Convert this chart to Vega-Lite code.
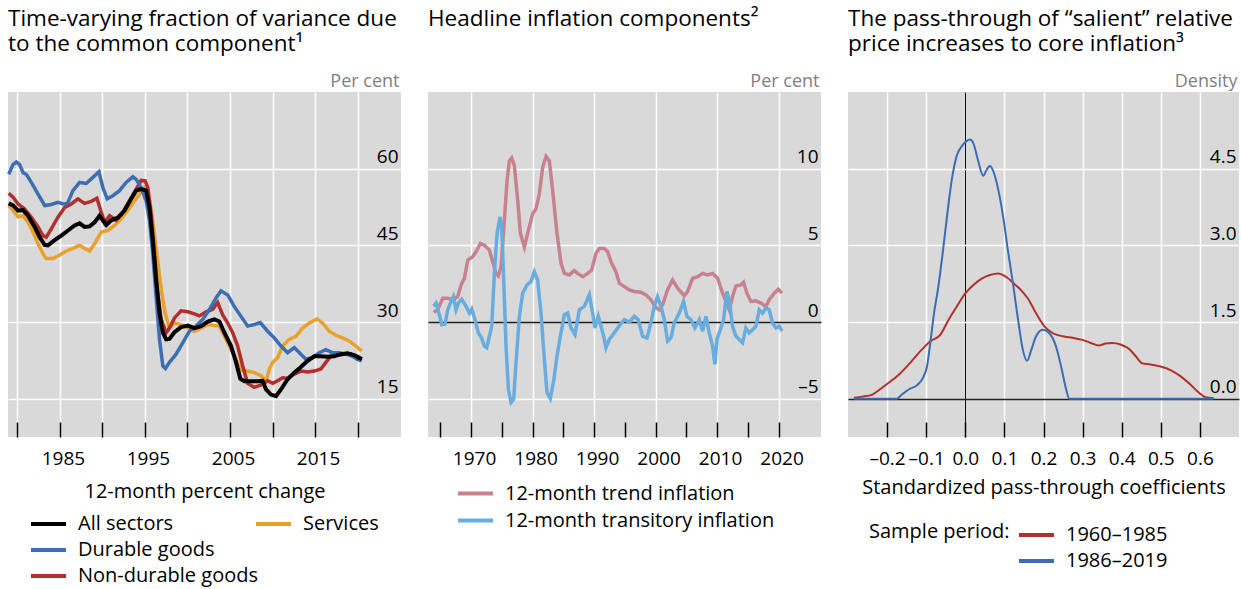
{
  "$schema": "https://vega.github.io/schema/vega-lite/v6.json",
  "background": "white",
  "padding": {"left": 0, "top": 7, "right": 3, "bottom": 0},
  "bounds": "flush",
  "spacing": 27,
  "resolve": {"scale": {"color": "independent", "stroke": "independent"}, "legend": {"color": "independent", "stroke": "independent"}},
  "config": {
    "font": "Open Sans",
    "view": {"fill": "#d9d9d9", "stroke": null},
    "axis": {"labelFontSize": 19, "labelColor": "black", "titleFontSize": 20, "titleFontWeight": "normal", "titleColor": "black", "domain": false, "gridColor": "white", "gridWidth": 1.5, "gridOpacity": 1},
    "legend": {"labelFontSize": 20, "labelColor": "black", "labelLimit": 400, "titleFontSize": 20, "titleFontWeight": "normal", "titleColor": "black", "titleLimit": 400, "symbolType": "stroke", "symbolSize": 1225, "symbolStrokeWidth": 4, "clipHeight": 26, "rowPadding": 0, "labelOffset": 10},
    "title": {"fontSize": 22.5, "fontWeight": "normal", "anchor": "start", "color": "black", "lineHeight": 25, "baseline": "bottom", "offset": 17, "frame": "group"}
  },
  "datasets": {
    "p1": [
      {"series": "Durable goods", "year": 1978.98, "value": 58.9}, {"series": "Durable goods", "year": 1979.49, "value": 60.8}, {"series": "Durable goods", "year": 1979.88, "value": 61.3}, {"series": "Durable goods", "year": 1980.27, "value": 60.8}, {"series": "Durable goods", "year": 1980.67, "value": 59.2}, {"series": "Durable goods", "year": 1981.06, "value": 58.9}, {"series": "Durable goods", "year": 1981.64, "value": 57.3}, {"series": "Durable goods", "year": 1982.43, "value": 55.0}, {"series": "Durable goods", "year": 1983.21, "value": 52.8}, {"series": "Durable goods", "year": 1983.99, "value": 53.0}, {"series": "Durable goods", "year": 1984.77, "value": 53.4}, {"series": "Durable goods", "year": 1985.56, "value": 53.0}, {"series": "Durable goods", "year": 1985.95, "value": 53.4}, {"series": "Durable goods", "year": 1986.53, "value": 55.7}, {"series": "Durable goods", "year": 1987.32, "value": 57.3}, {"series": "Durable goods", "year": 1988.1, "value": 57.1}, {"series": "Durable goods", "year": 1988.88, "value": 58.3}, {"series": "Durable goods", "year": 1989.59, "value": 59.4}, {"series": "Durable goods", "year": 1990.05, "value": 56.3}, {"series": "Durable goods", "year": 1990.56, "value": 54.1}, {"series": "Durable goods", "year": 1991.23, "value": 54.7}, {"series": "Durable goods", "year": 1992.01, "value": 55.7}, {"series": "Durable goods", "year": 1992.79, "value": 57.3}, {"series": "Durable goods", "year": 1993.58, "value": 58.4}, {"series": "Durable goods", "year": 1993.97, "value": 57.9}, {"series": "Durable goods", "year": 1994.55, "value": 56.3}, {"series": "Durable goods", "year": 1995.14, "value": 53.7}, {"series": "Durable goods", "year": 1995.53, "value": 49.9}, {"series": "Durable goods", "year": 1995.92, "value": 43.4}, {"series": "Durable goods", "year": 1996.31, "value": 35.0}, {"series": "Durable goods", "year": 1996.71, "value": 26.6}, {"series": "Durable goods", "year": 1997.1, "value": 21.4}, {"series": "Durable goods", "year": 1997.41, "value": 20.9}, {"series": "Durable goods", "year": 1997.88, "value": 22.1}, {"series": "Durable goods", "year": 1998.66, "value": 23.7}, {"series": "Durable goods", "year": 1999.44, "value": 25.9}, {"series": "Durable goods", "year": 2000.23, "value": 28.2}, {"series": "Durable goods", "year": 2001.01, "value": 29.2}, {"series": "Durable goods", "year": 2001.79, "value": 30.5}, {"series": "Durable goods", "year": 2002.57, "value": 32.4}, {"series": "Durable goods", "year": 2003.36, "value": 34.7}, {"series": "Durable goods", "year": 2003.94, "value": 36.1}, {"series": "Durable goods", "year": 2004.73, "value": 35.3}, {"series": "Durable goods", "year": 2005.51, "value": 33.0}, {"series": "Durable goods", "year": 2006.29, "value": 31.1}, {"series": "Durable goods", "year": 2007.07, "value": 29.2}, {"series": "Durable goods", "year": 2007.86, "value": 29.5}, {"series": "Durable goods", "year": 2008.56, "value": 29.9}, {"series": "Durable goods", "year": 2009.42, "value": 28.2}, {"series": "Durable goods", "year": 2010.2, "value": 26.9}, {"series": "Durable goods", "year": 2010.99, "value": 25.3}, {"series": "Durable goods", "year": 2011.77, "value": 24.0}, {"series": "Durable goods", "year": 2012.55, "value": 25.0}, {"series": "Durable goods", "year": 2013.33, "value": 23.7}, {"series": "Durable goods", "year": 2013.92, "value": 22.7}, {"series": "Durable goods", "year": 2014.7, "value": 23.0}, {"series": "Durable goods", "year": 2015.48, "value": 24.0}, {"series": "Durable goods", "year": 2016.27, "value": 24.6}, {"series": "Durable goods", "year": 2017.05, "value": 24.0}, {"series": "Durable goods", "year": 2017.83, "value": 24.0}, {"series": "Durable goods", "year": 2018.62, "value": 23.7}, {"series": "Durable goods", "year": 2019.4, "value": 23.3}, {"series": "Durable goods", "year": 2019.98, "value": 22.7}, {"series": "Durable goods", "year": 2020.49, "value": 22.4},
      {"series": "All sectors", "year": 1978.98, "value": 53.2}, {"series": "All sectors", "year": 1979.49, "value": 52.8}, {"series": "All sectors", "year": 1980.08, "value": 51.8}, {"series": "All sectors", "year": 1980.67, "value": 51.9}, {"series": "All sectors", "year": 1981.25, "value": 50.8}, {"series": "All sectors", "year": 1982.03, "value": 48.6}, {"series": "All sectors", "year": 1982.62, "value": 46.6}, {"series": "All sectors", "year": 1983.21, "value": 45.1}, {"series": "All sectors", "year": 1983.6, "value": 45.0}, {"series": "All sectors", "year": 1984.38, "value": 46.0}, {"series": "All sectors", "year": 1985.16, "value": 46.9}, {"series": "All sectors", "year": 1985.95, "value": 47.9}, {"series": "All sectors", "year": 1986.73, "value": 48.9}, {"series": "All sectors", "year": 1987.32, "value": 49.3}, {"series": "All sectors", "year": 1987.9, "value": 48.6}, {"series": "All sectors", "year": 1988.49, "value": 48.7}, {"series": "All sectors", "year": 1989.08, "value": 49.5}, {"series": "All sectors", "year": 1989.66, "value": 50.8}, {"series": "All sectors", "year": 1990.05, "value": 49.9}, {"series": "All sectors", "year": 1990.45, "value": 49.0}, {"series": "All sectors", "year": 1991.03, "value": 49.9}, {"series": "All sectors", "year": 1991.82, "value": 50.4}, {"series": "All sectors", "year": 1992.6, "value": 51.8}, {"series": "All sectors", "year": 1993.38, "value": 54.1}, {"series": "All sectors", "year": 1993.97, "value": 55.7}, {"series": "All sectors", "year": 1994.55, "value": 56.0}, {"series": "All sectors", "year": 1995.14, "value": 55.7}, {"series": "All sectors", "year": 1995.53, "value": 52.4}, {"series": "All sectors", "year": 1995.92, "value": 46.0}, {"series": "All sectors", "year": 1996.31, "value": 38.2}, {"series": "All sectors", "year": 1996.71, "value": 31.8}, {"series": "All sectors", "year": 1997.1, "value": 27.9}, {"series": "All sectors", "year": 1997.49, "value": 26.6}, {"series": "All sectors", "year": 1997.88, "value": 26.7}, {"series": "All sectors", "year": 1998.47, "value": 28.0}, {"series": "All sectors", "year": 1999.25, "value": 29.0}, {"series": "All sectors", "year": 2000.03, "value": 29.3}, {"series": "All sectors", "year": 2000.81, "value": 28.8}, {"series": "All sectors", "year": 2001.6, "value": 29.2}, {"series": "All sectors", "year": 2002.38, "value": 30.1}, {"series": "All sectors", "year": 2003.16, "value": 30.5}, {"series": "All sectors", "year": 2003.75, "value": 30.1}, {"series": "All sectors", "year": 2004.34, "value": 27.9}, {"series": "All sectors", "year": 2005.12, "value": 25.3}, {"series": "All sectors", "year": 2005.71, "value": 22.1}, {"series": "All sectors", "year": 2006.21, "value": 18.9}, {"series": "All sectors", "year": 2006.68, "value": 18.4}, {"series": "All sectors", "year": 2007.46, "value": 18.4}, {"series": "All sectors", "year": 2008.25, "value": 18.4}, {"series": "All sectors", "year": 2008.83, "value": 18.5}, {"series": "All sectors", "year": 2009.23, "value": 16.8}, {"series": "All sectors", "year": 2009.81, "value": 15.8}, {"series": "All sectors", "year": 2010.4, "value": 15.5}, {"series": "All sectors", "year": 2010.99, "value": 16.8}, {"series": "All sectors", "year": 2011.77, "value": 18.8}, {"series": "All sectors", "year": 2012.55, "value": 20.1}, {"series": "All sectors", "year": 2013.33, "value": 21.2}, {"series": "All sectors", "year": 2014.12, "value": 22.4}, {"series": "All sectors", "year": 2014.9, "value": 23.3}, {"series": "All sectors", "year": 2015.68, "value": 23.3}, {"series": "All sectors", "year": 2016.46, "value": 23.2}, {"series": "All sectors", "year": 2017.25, "value": 23.3}, {"series": "All sectors", "year": 2018.03, "value": 23.7}, {"series": "All sectors", "year": 2018.81, "value": 23.9}, {"series": "All sectors", "year": 2019.59, "value": 23.5}, {"series": "All sectors", "year": 2020.49, "value": 22.7},
      {"series": "Non-durable goods", "year": 1978.98, "value": 55.2}, {"series": "Non-durable goods", "year": 1979.49, "value": 54.4}, {"series": "Non-durable goods", "year": 1980.08, "value": 53.1}, {"series": "Non-durable goods", "year": 1980.86, "value": 52.1}, {"series": "Non-durable goods", "year": 1981.64, "value": 50.5}, {"series": "Non-durable goods", "year": 1982.43, "value": 48.6}, {"series": "Non-durable goods", "year": 1983.01, "value": 46.9}, {"series": "Non-durable goods", "year": 1983.4, "value": 46.6}, {"series": "Non-durable goods", "year": 1983.99, "value": 48.2}, {"series": "Non-durable goods", "year": 1984.77, "value": 50.5}, {"series": "Non-durable goods", "year": 1985.56, "value": 52.4}, {"series": "Non-durable goods", "year": 1986.34, "value": 53.1}, {"series": "Non-durable goods", "year": 1987.12, "value": 54.1}, {"series": "Non-durable goods", "year": 1987.9, "value": 53.2}, {"series": "Non-durable goods", "year": 1988.69, "value": 53.6}, {"series": "Non-durable goods", "year": 1989.35, "value": 54.2}, {"series": "Non-durable goods", "year": 1989.86, "value": 51.5}, {"series": "Non-durable goods", "year": 1990.25, "value": 49.5}, {"series": "Non-durable goods", "year": 1990.84, "value": 50.8}, {"series": "Non-durable goods", "year": 1991.62, "value": 49.9}, {"series": "Non-durable goods", "year": 1992.4, "value": 51.5}, {"series": "Non-durable goods", "year": 1993.18, "value": 53.7}, {"series": "Non-durable goods", "year": 1993.97, "value": 56.0}, {"series": "Non-durable goods", "year": 1994.55, "value": 57.7}, {"series": "Non-durable goods", "year": 1995.02, "value": 57.6}, {"series": "Non-durable goods", "year": 1995.34, "value": 56.3}, {"series": "Non-durable goods", "year": 1995.73, "value": 51.1}, {"series": "Non-durable goods", "year": 1996.12, "value": 43.4}, {"series": "Non-durable goods", "year": 1996.51, "value": 35.6}, {"series": "Non-durable goods", "year": 1996.9, "value": 30.5}, {"series": "Non-durable goods", "year": 1997.49, "value": 27.9}, {"series": "Non-durable goods", "year": 1997.88, "value": 28.8}, {"series": "Non-durable goods", "year": 1998.47, "value": 30.8}, {"series": "Non-durable goods", "year": 1999.25, "value": 32.2}, {"series": "Non-durable goods", "year": 2000.03, "value": 32.0}, {"series": "Non-durable goods", "year": 2000.81, "value": 31.6}, {"series": "Non-durable goods", "year": 2001.4, "value": 31.2}, {"series": "Non-durable goods", "year": 2002.18, "value": 32.0}, {"series": "Non-durable goods", "year": 2002.97, "value": 32.5}, {"series": "Non-durable goods", "year": 2003.55, "value": 33.8}, {"series": "Non-durable goods", "year": 2004.14, "value": 31.4}, {"series": "Non-durable goods", "year": 2004.73, "value": 29.8}, {"series": "Non-durable goods", "year": 2005.31, "value": 27.9}, {"series": "Non-durable goods", "year": 2005.9, "value": 25.3}, {"series": "Non-durable goods", "year": 2006.49, "value": 21.4}, {"series": "Non-durable goods", "year": 2007.07, "value": 18.0}, {"series": "Non-durable goods", "year": 2007.86, "value": 17.2}, {"series": "Non-durable goods", "year": 2008.64, "value": 17.7}, {"series": "Non-durable goods", "year": 2009.42, "value": 18.5}, {"series": "Non-durable goods", "year": 2010.01, "value": 18.0}, {"series": "Non-durable goods", "year": 2010.6, "value": 18.5}, {"series": "Non-durable goods", "year": 2011.18, "value": 19.1}, {"series": "Non-durable goods", "year": 2011.77, "value": 19.0}, {"series": "Non-durable goods", "year": 2012.55, "value": 19.8}, {"series": "Non-durable goods", "year": 2013.33, "value": 20.4}, {"series": "Non-durable goods", "year": 2014.12, "value": 20.2}, {"series": "Non-durable goods", "year": 2014.9, "value": 20.4}, {"series": "Non-durable goods", "year": 2015.68, "value": 20.8}, {"series": "Non-durable goods", "year": 2016.27, "value": 22.1}, {"series": "Non-durable goods", "year": 2016.85, "value": 23.3}, {"series": "Non-durable goods", "year": 2017.64, "value": 23.5}, {"series": "Non-durable goods", "year": 2018.42, "value": 23.7}, {"series": "Non-durable goods", "year": 2019.2, "value": 23.7}, {"series": "Non-durable goods", "year": 2019.98, "value": 23.3}, {"series": "Non-durable goods", "year": 2020.49, "value": 22.8},
      {"series": "Services", "year": 1978.98, "value": 52.8}, {"series": "Services", "year": 1979.49, "value": 51.8}, {"series": "Services", "year": 1980.08, "value": 50.6}, {"series": "Services", "year": 1980.67, "value": 50.8}, {"series": "Services", "year": 1981.25, "value": 49.5}, {"series": "Services", "year": 1981.84, "value": 47.6}, {"series": "Services", "year": 1982.43, "value": 45.3}, {"series": "Services", "year": 1983.01, "value": 43.4}, {"series": "Services", "year": 1983.4, "value": 42.4}, {"series": "Services", "year": 1984.19, "value": 42.4}, {"series": "Services", "year": 1984.97, "value": 43.1}, {"series": "Services", "year": 1985.75, "value": 43.9}, {"series": "Services", "year": 1986.53, "value": 44.4}, {"series": "Services", "year": 1987.32, "value": 45.0}, {"series": "Services", "year": 1987.9, "value": 44.4}, {"series": "Services", "year": 1988.49, "value": 43.9}, {"series": "Services", "year": 1989.08, "value": 45.3}, {"series": "Services", "year": 1989.86, "value": 47.6}, {"series": "Services", "year": 1990.64, "value": 47.9}, {"series": "Services", "year": 1991.42, "value": 48.9}, {"series": "Services", "year": 1992.21, "value": 50.2}, {"series": "Services", "year": 1992.99, "value": 51.8}, {"series": "Services", "year": 1993.77, "value": 53.7}, {"series": "Services", "year": 1994.36, "value": 55.0}, {"series": "Services", "year": 1994.95, "value": 56.3}, {"series": "Services", "year": 1995.41, "value": 55.3}, {"series": "Services", "year": 1995.81, "value": 51.1}, {"series": "Services", "year": 1996.2, "value": 46.0}, {"series": "Services", "year": 1996.59, "value": 40.8}, {"series": "Services", "year": 1996.98, "value": 35.6}, {"series": "Services", "year": 1997.37, "value": 31.8}, {"series": "Services", "year": 1997.88, "value": 28.8}, {"series": "Services", "year": 1998.47, "value": 29.8}, {"series": "Services", "year": 1999.25, "value": 29.5}, {"series": "Services", "year": 2000.03, "value": 28.8}, {"series": "Services", "year": 2000.81, "value": 28.2}, {"series": "Services", "year": 2001.6, "value": 28.8}, {"series": "Services", "year": 2002.38, "value": 29.5}, {"series": "Services", "year": 2003.16, "value": 29.3}, {"series": "Services", "year": 2003.75, "value": 29.2}, {"series": "Services", "year": 2004.34, "value": 27.2}, {"series": "Services", "year": 2005.12, "value": 24.6}, {"series": "Services", "year": 2005.71, "value": 22.7}, {"series": "Services", "year": 2006.29, "value": 20.6}, {"series": "Services", "year": 2007.07, "value": 20.4}, {"series": "Services", "year": 2007.86, "value": 20.1}, {"series": "Services", "year": 2008.64, "value": 19.5}, {"series": "Services", "year": 2009.23, "value": 18.5}, {"series": "Services", "year": 2009.62, "value": 20.8}, {"series": "Services", "year": 2010.01, "value": 22.1}, {"series": "Services", "year": 2010.6, "value": 23.0}, {"series": "Services", "year": 2011.18, "value": 25.3}, {"series": "Services", "year": 2011.96, "value": 26.6}, {"series": "Services", "year": 2012.75, "value": 27.2}, {"series": "Services", "year": 2013.53, "value": 28.8}, {"series": "Services", "year": 2014.31, "value": 29.8}, {"series": "Services", "year": 2015.21, "value": 30.6}, {"series": "Services", "year": 2015.88, "value": 29.8}, {"series": "Services", "year": 2016.66, "value": 28.2}, {"series": "Services", "year": 2017.44, "value": 27.4}, {"series": "Services", "year": 2018.22, "value": 26.9}, {"series": "Services", "year": 2019.01, "value": 26.3}, {"series": "Services", "year": 2019.79, "value": 25.3}, {"series": "Services", "year": 2020.49, "value": 24.3}
    ],
    "p2": [
      {"series": "12-month trend inflation", "year": 1963.93, "value": 0.63}, {"series": "12-month trend inflation", "year": 1964.58, "value": 0.8}, {"series": "12-month trend inflation", "year": 1965.4, "value": 1.55}, {"series": "12-month trend inflation", "year": 1966.21, "value": 1.55}, {"series": "12-month trend inflation", "year": 1967.02, "value": 1.45}, {"series": "12-month trend inflation", "year": 1967.83, "value": 1.66}, {"series": "12-month trend inflation", "year": 1968.37, "value": 2.4}, {"series": "12-month trend inflation", "year": 1968.92, "value": 2.85}, {"series": "12-month trend inflation", "year": 1969.46, "value": 4.04}, {"series": "12-month trend inflation", "year": 1970.27, "value": 4.25}, {"series": "12-month trend inflation", "year": 1970.81, "value": 4.58}, {"series": "12-month trend inflation", "year": 1971.52, "value": 5.12}, {"series": "12-month trend inflation", "year": 1972.17, "value": 5.01}, {"series": "12-month trend inflation", "year": 1972.98, "value": 4.69}, {"series": "12-month trend inflation", "year": 1973.52, "value": 3.93}, {"series": "12-month trend inflation", "year": 1974.06, "value": 3.17}, {"series": "12-month trend inflation", "year": 1974.44, "value": 3.0}, {"series": "12-month trend inflation", "year": 1974.88, "value": 3.6}, {"series": "12-month trend inflation", "year": 1975.42, "value": 6.63}, {"series": "12-month trend inflation", "year": 1975.85, "value": 9.2}, {"series": "12-month trend inflation", "year": 1976.23, "value": 10.5}, {"series": "12-month trend inflation", "year": 1976.61, "value": 10.7}, {"series": "12-month trend inflation", "year": 1977.04, "value": 10.2}, {"series": "12-month trend inflation", "year": 1977.58, "value": 7.97}, {"series": "12-month trend inflation", "year": 1978.02, "value": 5.8}, {"series": "12-month trend inflation", "year": 1978.67, "value": 4.9}, {"series": "12-month trend inflation", "year": 1979.21, "value": 5.8}, {"series": "12-month trend inflation", "year": 1980.02, "value": 7.06}, {"series": "12-month trend inflation", "year": 1980.56, "value": 7.39}, {"series": "12-month trend inflation", "year": 1981.11, "value": 8.36}, {"series": "12-month trend inflation", "year": 1981.65, "value": 10.1}, {"series": "12-month trend inflation", "year": 1982.19, "value": 10.8}, {"series": "12-month trend inflation", "year": 1982.73, "value": 10.5}, {"series": "12-month trend inflation", "year": 1983.27, "value": 8.57}, {"series": "12-month trend inflation", "year": 1983.98, "value": 5.77}, {"series": "12-month trend inflation", "year": 1984.63, "value": 3.82}, {"series": "12-month trend inflation", "year": 1985.17, "value": 3.17}, {"series": "12-month trend inflation", "year": 1985.98, "value": 3.07}, {"series": "12-month trend inflation", "year": 1986.79, "value": 3.35}, {"series": "12-month trend inflation", "year": 1987.33, "value": 3.17}, {"series": "12-month trend inflation", "year": 1988.15, "value": 2.96}, {"series": "12-month trend inflation", "year": 1988.96, "value": 3.17}, {"series": "12-month trend inflation", "year": 1989.61, "value": 3.39}, {"series": "12-month trend inflation", "year": 1990.31, "value": 4.47}, {"series": "12-month trend inflation", "year": 1990.86, "value": 4.79}, {"series": "12-month trend inflation", "year": 1991.67, "value": 4.79}, {"series": "12-month trend inflation", "year": 1992.21, "value": 4.58}, {"series": "12-month trend inflation", "year": 1992.86, "value": 3.82}, {"series": "12-month trend inflation", "year": 1993.56, "value": 3.28}, {"series": "12-month trend inflation", "year": 1994.11, "value": 2.53}, {"series": "12-month trend inflation", "year": 1994.92, "value": 2.31}, {"series": "12-month trend inflation", "year": 1995.73, "value": 2.1}, {"series": "12-month trend inflation", "year": 1996.54, "value": 1.99}, {"series": "12-month trend inflation", "year": 1997.62, "value": 1.94}, {"series": "12-month trend inflation", "year": 1998.43, "value": 1.77}, {"series": "12-month trend inflation", "year": 1999.25, "value": 1.45}, {"series": "12-month trend inflation", "year": 2000.05, "value": 0.95}, {"series": "12-month trend inflation", "year": 2000.6, "value": 0.8}, {"series": "12-month trend inflation", "year": 2001.15, "value": 1.12}, {"series": "12-month trend inflation", "year": 2001.96, "value": 2.1}, {"series": "12-month trend inflation", "year": 2002.77, "value": 2.74}, {"series": "12-month trend inflation", "year": 2003.59, "value": 2.2}, {"series": "12-month trend inflation", "year": 2004.67, "value": 1.71}, {"series": "12-month trend inflation", "year": 2005.21, "value": 1.99}, {"series": "12-month trend inflation", "year": 2006.02, "value": 2.85}, {"series": "12-month trend inflation", "year": 2006.84, "value": 2.96}, {"series": "12-month trend inflation", "year": 2007.65, "value": 3.17}, {"series": "12-month trend inflation", "year": 2008.46, "value": 3.07}, {"series": "12-month trend inflation", "year": 2009.27, "value": 3.17}, {"series": "12-month trend inflation", "year": 2010.09, "value": 2.85}, {"series": "12-month trend inflation", "year": 2010.9, "value": 1.88}, {"series": "12-month trend inflation", "year": 2011.44, "value": 1.34}, {"series": "12-month trend inflation", "year": 2011.98, "value": 0.8}, {"series": "12-month trend inflation", "year": 2012.52, "value": 1.66}, {"series": "12-month trend inflation", "year": 2013.07, "value": 2.35}, {"series": "12-month trend inflation", "year": 2013.88, "value": 2.42}, {"series": "12-month trend inflation", "year": 2014.31, "value": 2.59}, {"series": "12-month trend inflation", "year": 2014.85, "value": 1.88}, {"series": "12-month trend inflation", "year": 2015.5, "value": 1.34}, {"series": "12-month trend inflation", "year": 2016.32, "value": 1.38}, {"series": "12-month trend inflation", "year": 2017.13, "value": 1.23}, {"series": "12-month trend inflation", "year": 2017.94, "value": 1.02}, {"series": "12-month trend inflation", "year": 2018.48, "value": 1.45}, {"series": "12-month trend inflation", "year": 2019.3, "value": 1.88}, {"series": "12-month trend inflation", "year": 2019.95, "value": 2.14}, {"series": "12-month trend inflation", "year": 2020.54, "value": 1.88},
      {"series": "12-month transitory inflation", "year": 1963.93, "value": 1.02}, {"series": "12-month transitory inflation", "year": 1964.31, "value": 1.23}, {"series": "12-month transitory inflation", "year": 1964.85, "value": 0.48}, {"series": "12-month transitory inflation", "year": 1965.23, "value": -0.17}, {"series": "12-month transitory inflation", "year": 1965.77, "value": -0.13}, {"series": "12-month transitory inflation", "year": 1966.21, "value": 0.8}, {"series": "12-month transitory inflation", "year": 1966.75, "value": 1.34}, {"series": "12-month transitory inflation", "year": 1967.13, "value": 1.66}, {"series": "12-month transitory inflation", "year": 1967.56, "value": 0.8}, {"series": "12-month transitory inflation", "year": 1967.94, "value": 1.23}, {"series": "12-month transitory inflation", "year": 1968.48, "value": 1.49}, {"series": "12-month transitory inflation", "year": 1969.19, "value": 1.02}, {"series": "12-month transitory inflation", "year": 1969.73, "value": 0.58}, {"series": "12-month transitory inflation", "year": 1970.11, "value": 0.84}, {"series": "12-month transitory inflation", "year": 1970.65, "value": 0.15}, {"series": "12-month transitory inflation", "year": 1971.19, "value": -0.71}, {"series": "12-month transitory inflation", "year": 1971.73, "value": -1.04}, {"series": "12-month transitory inflation", "year": 1972.17, "value": -1.58}, {"series": "12-month transitory inflation", "year": 1972.55, "value": -1.68}, {"series": "12-month transitory inflation", "year": 1972.98, "value": -0.93}, {"series": "12-month transitory inflation", "year": 1973.36, "value": -0.28}, {"series": "12-month transitory inflation", "year": 1973.79, "value": 3.17}, {"series": "12-month transitory inflation", "year": 1974.23, "value": 5.77}, {"series": "12-month transitory inflation", "year": 1974.71, "value": 6.85}, {"series": "12-month transitory inflation", "year": 1974.98, "value": 6.2}, {"series": "12-month transitory inflation", "year": 1975.31, "value": 2.74}, {"series": "12-month transitory inflation", "year": 1975.69, "value": -1.58}, {"series": "12-month transitory inflation", "year": 1976.07, "value": -4.38}, {"series": "12-month transitory inflation", "year": 1976.5, "value": -5.25}, {"series": "12-month transitory inflation", "year": 1976.93, "value": -5.03}, {"series": "12-month transitory inflation", "year": 1977.31, "value": -2.66}, {"series": "12-month transitory inflation", "year": 1977.85, "value": 0.37}, {"series": "12-month transitory inflation", "year": 1978.4, "value": 1.88}, {"series": "12-month transitory inflation", "year": 1979.1, "value": 2.42}, {"series": "12-month transitory inflation", "year": 1979.75, "value": 2.64}, {"series": "12-month transitory inflation", "year": 1980.29, "value": 3.28}, {"series": "12-month transitory inflation", "year": 1980.83, "value": 2.74}, {"series": "12-month transitory inflation", "year": 1981.38, "value": 0.58}, {"series": "12-month transitory inflation", "year": 1981.92, "value": -2.44}, {"series": "12-month transitory inflation", "year": 1982.35, "value": -4.6}, {"series": "12-month transitory inflation", "year": 1982.89, "value": -4.99}, {"series": "12-month transitory inflation", "year": 1983.43, "value": -3.84}, {"series": "12-month transitory inflation", "year": 1983.98, "value": -2.22}, {"series": "12-month transitory inflation", "year": 1984.52, "value": -0.93}, {"series": "12-month transitory inflation", "year": 1985.17, "value": 0.48}, {"series": "12-month transitory inflation", "year": 1985.71, "value": 0.58}, {"series": "12-month transitory inflation", "year": 1986.25, "value": -0.39}, {"series": "12-month transitory inflation", "year": 1986.9, "value": -0.82}, {"series": "12-month transitory inflation", "year": 1987.61, "value": 0.8}, {"series": "12-month transitory inflation", "year": 1988.42, "value": 1.02}, {"series": "12-month transitory inflation", "year": 1989.23, "value": 1.77}, {"series": "12-month transitory inflation", "year": 1989.77, "value": 0.58}, {"series": "12-month transitory inflation", "year": 1990.15, "value": -0.39}, {"series": "12-month transitory inflation", "year": 1990.69, "value": 0.37}, {"series": "12-month transitory inflation", "year": 1991.13, "value": -0.28}, {"series": "12-month transitory inflation", "year": 1991.56, "value": -0.93}, {"series": "12-month transitory inflation", "year": 1991.94, "value": -1.68}, {"series": "12-month transitory inflation", "year": 1992.48, "value": -1.14}, {"series": "12-month transitory inflation", "year": 1993.29, "value": -0.71}, {"series": "12-month transitory inflation", "year": 1994.11, "value": -0.24}, {"series": "12-month transitory inflation", "year": 1994.92, "value": 0.15}, {"series": "12-month transitory inflation", "year": 1995.73, "value": -0.02}, {"series": "12-month transitory inflation", "year": 1996.54, "value": 0.37}, {"series": "12-month transitory inflation", "year": 1997.19, "value": 0.15}, {"series": "12-month transitory inflation", "year": 1997.89, "value": -0.93}, {"series": "12-month transitory inflation", "year": 1998.6, "value": -1.04}, {"series": "12-month transitory inflation", "year": 1999.25, "value": -0.06}, {"series": "12-month transitory inflation", "year": 1999.78, "value": 1.02}, {"series": "12-month transitory inflation", "year": 2000.32, "value": 1.66}, {"series": "12-month transitory inflation", "year": 2000.88, "value": 1.02}, {"series": "12-month transitory inflation", "year": 2001.42, "value": 0.15}, {"series": "12-month transitory inflation", "year": 2001.96, "value": -1.25}, {"series": "12-month transitory inflation", "year": 2002.5, "value": -1.04}, {"series": "12-month transitory inflation", "year": 2003.04, "value": -0.06}, {"series": "12-month transitory inflation", "year": 2003.86, "value": 0.58}, {"series": "12-month transitory inflation", "year": 2004.56, "value": 1.34}, {"series": "12-month transitory inflation", "year": 2005.1, "value": 0.37}, {"series": "12-month transitory inflation", "year": 2005.75, "value": 0.15}, {"series": "12-month transitory inflation", "year": 2006.4, "value": -0.39}, {"series": "12-month transitory inflation", "year": 2007.11, "value": 0.15}, {"series": "12-month transitory inflation", "year": 2007.65, "value": -0.6}, {"series": "12-month transitory inflation", "year": 2008.19, "value": 0.37}, {"series": "12-month transitory inflation", "year": 2008.73, "value": -0.71}, {"series": "12-month transitory inflation", "year": 2009.27, "value": -1.58}, {"series": "12-month transitory inflation", "year": 2009.65, "value": -2.76}, {"series": "12-month transitory inflation", "year": 2009.98, "value": -1.14}, {"series": "12-month transitory inflation", "year": 2010.52, "value": -0.5}, {"series": "12-month transitory inflation", "year": 2011.06, "value": 0.15}, {"series": "12-month transitory inflation", "year": 2011.6, "value": 1.99}, {"series": "12-month transitory inflation", "year": 2011.98, "value": 1.45}, {"series": "12-month transitory inflation", "year": 2012.52, "value": -0.28}, {"series": "12-month transitory inflation", "year": 2013.07, "value": -0.93}, {"series": "12-month transitory inflation", "year": 2013.61, "value": -1.14}, {"series": "12-month transitory inflation", "year": 2014.15, "value": -1.36}, {"series": "12-month transitory inflation", "year": 2014.69, "value": -0.39}, {"series": "12-month transitory inflation", "year": 2015.23, "value": -0.71}, {"series": "12-month transitory inflation", "year": 2015.77, "value": -0.5}, {"series": "12-month transitory inflation", "year": 2016.32, "value": -0.28}, {"series": "12-month transitory inflation", "year": 2016.86, "value": 0.8}, {"series": "12-month transitory inflation", "year": 2017.4, "value": 0.58}, {"series": "12-month transitory inflation", "year": 2017.94, "value": 0.91}, {"series": "12-month transitory inflation", "year": 2018.48, "value": 0.8}, {"series": "12-month transitory inflation", "year": 2019.02, "value": -0.06}, {"series": "12-month transitory inflation", "year": 2019.57, "value": -0.39}, {"series": "12-month transitory inflation", "year": 2020.11, "value": -0.28}, {"series": "12-month transitory inflation", "year": 2020.54, "value": -0.6}
    ],
    "p3": [
      {"series": "1960–1985", "coef": -0.285, "density": 0.02}, {"series": "1960–1985", "coef": -0.264, "density": 0.04}, {"series": "1960–1985", "coef": -0.238, "density": 0.08}, {"series": "1960–1985", "coef": -0.217, "density": 0.19}, {"series": "1960–1985", "coef": -0.196, "density": 0.31}, {"series": "1960–1985", "coef": -0.17, "density": 0.47}, {"series": "1960–1985", "coef": -0.141, "density": 0.7}, {"series": "1960–1985", "coef": -0.115, "density": 0.93}, {"series": "1960–1985", "coef": -0.09, "density": 1.12}, {"series": "1960–1985", "coef": -0.064, "density": 1.25}, {"series": "1960–1985", "coef": -0.043, "density": 1.54}, {"series": "1960–1985", "coef": -0.022, "density": 1.8}, {"series": "1960–1985", "coef": 0.0, "density": 2.06}, {"series": "1960–1985", "coef": 0.02, "density": 2.22}, {"series": "1960–1985", "coef": 0.042, "density": 2.35}, {"series": "1960–1985", "coef": 0.063, "density": 2.42}, {"series": "1960–1985", "coef": 0.084, "density": 2.45}, {"series": "1960–1985", "coef": 0.105, "density": 2.38}, {"series": "1960–1985", "coef": 0.126, "density": 2.24}, {"series": "1960–1985", "coef": 0.143, "density": 2.12}, {"series": "1960–1985", "coef": 0.16, "density": 1.96}, {"series": "1960–1985", "coef": 0.181, "density": 1.67}, {"series": "1960–1985", "coef": 0.203, "density": 1.41}, {"series": "1960–1985", "coef": 0.224, "density": 1.28}, {"series": "1960–1985", "coef": 0.249, "density": 1.22}, {"series": "1960–1985", "coef": 0.275, "density": 1.19}, {"series": "1960–1985", "coef": 0.3, "density": 1.15}, {"series": "1960–1985", "coef": 0.321, "density": 1.09}, {"series": "1960–1985", "coef": 0.342, "density": 1.04}, {"series": "1960–1985", "coef": 0.359, "density": 1.08}, {"series": "1960–1985", "coef": 0.376, "density": 1.09}, {"series": "1960–1985", "coef": 0.397, "density": 1.06}, {"series": "1960–1985", "coef": 0.419, "density": 0.97}, {"series": "1960–1985", "coef": 0.436, "density": 0.83}, {"series": "1960–1985", "coef": 0.453, "density": 0.69}, {"series": "1960–1985", "coef": 0.474, "density": 0.67}, {"series": "1960–1985", "coef": 0.499, "density": 0.63}, {"series": "1960–1985", "coef": 0.525, "density": 0.56}, {"series": "1960–1985", "coef": 0.55, "density": 0.44}, {"series": "1960–1985", "coef": 0.575, "density": 0.28}, {"series": "1960–1985", "coef": 0.597, "density": 0.12}, {"series": "1960–1985", "coef": 0.614, "density": 0.03}, {"series": "1960–1985", "coef": 0.635, "density": 0.01},
      {"series": "1986–2019", "coef": -0.285, "density": 0}, {"series": "1986–2019", "coef": -0.175, "density": 0}, {"series": "1986–2019", "coef": -0.162, "density": 0.08}, {"series": "1986–2019", "coef": -0.145, "density": 0.18}, {"series": "1986–2019", "coef": -0.124, "density": 0.26}, {"series": "1986–2019", "coef": -0.108, "density": 0.41}, {"series": "1986–2019", "coef": -0.098, "density": 0.63}, {"series": "1986–2019", "coef": -0.09, "density": 1.06}, {"series": "1986–2019", "coef": -0.08, "density": 1.67}, {"series": "1986–2019", "coef": -0.069, "density": 2.19}, {"series": "1986–2019", "coef": -0.058, "density": 2.84}, {"series": "1986–2019", "coef": -0.047, "density": 3.55}, {"series": "1986–2019", "coef": -0.035, "density": 4.26}, {"series": "1986–2019", "coef": -0.022, "density": 4.75}, {"series": "1986–2019", "coef": -0.009, "density": 4.94}, {"series": "1986–2019", "coef": 0.003, "density": 5.04}, {"series": "1986–2019", "coef": 0.012, "density": 5.07}, {"series": "1986–2019", "coef": 0.02, "density": 5.01}, {"series": "1986–2019", "coef": 0.033, "density": 4.65}, {"series": "1986–2019", "coef": 0.046, "density": 4.36}, {"series": "1986–2019", "coef": 0.054, "density": 4.47}, {"series": "1986–2019", "coef": 0.063, "density": 4.55}, {"series": "1986–2019", "coef": 0.071, "density": 4.46}, {"series": "1986–2019", "coef": 0.084, "density": 4.1}, {"series": "1986–2019", "coef": 0.097, "density": 3.55}, {"series": "1986–2019", "coef": 0.109, "density": 2.9}, {"series": "1986–2019", "coef": 0.122, "density": 2.25}, {"series": "1986–2019", "coef": 0.135, "density": 1.54}, {"series": "1986–2019", "coef": 0.147, "density": 0.96}, {"series": "1986–2019", "coef": 0.158, "density": 0.74}, {"series": "1986–2019", "coef": 0.169, "density": 0.96}, {"series": "1986–2019", "coef": 0.181, "density": 1.22}, {"series": "1986–2019", "coef": 0.198, "density": 1.35}, {"series": "1986–2019", "coef": 0.215, "density": 1.28}, {"series": "1986–2019", "coef": 0.232, "density": 1.02}, {"series": "1986–2019", "coef": 0.245, "density": 0.63}, {"series": "1986–2019", "coef": 0.258, "density": 0.18}, {"series": "1986–2019", "coef": 0.266, "density": 0}, {"series": "1986–2019", "coef": 0.635, "density": 0}
    ]
  },
  "hconcat": [
    {
      "width": 393, "height": 345,
      "title": {"text": ["Time-varying fraction of variance due", "to the common component¹"]},
      "data": {"name": "p1"},
      "encoding": {
        "x": {"field": "year", "type": "quantitative", "scale": {"domain": [1978.9, 2025.1], "nice": false, "zero": false},
          "axis": {"values": [1980, 1985, 1990, 1995, 2000, 2005, 2010, 2015, 2020], "labelExpr": "datum.value % 10 == 5 ? format(datum.value, 'd') : ''", "grid": true, "tickSize": -15, "tickColor": "black", "tickWidth": 1.5, "labelPadding": 27, "labelOffset": 3, "title": "12-month percent change", "titlePadding": 13}},
        "y": {"field": "value", "type": "quantitative", "scale": {"domain": [7.5, 75], "nice": false, "zero": false},
          "axis": {"orient": "right", "values": [15, 30, 45, 60], "grid": true, "ticks": false, "tickSize": 0, "labelAlign": "right", "labelBaseline": "alphabetic", "labelPadding": -3, "labelOffset": -6, "title": "Per cent", "titleAngle": 0, "titleAlign": "right", "titleBaseline": "alphabetic", "titleX": -2, "titleY": -6, "titleColor": "#808080", "titleFontSize": 18}}
      },
      "layer": [
        {"transform": [{"filter": "datum.series == 'Services'"}], "mark": {"type": "line", "strokeWidth": 3.5},
          "encoding": {"stroke": {"field": "series", "type": "nominal", "scale": {"domain": ["Services"], "range": ["#eaa12a"]}, "legend": {"orient": "none", "legendX": 246, "legendY": 419, "title": null}}}},
        {"transform": [{"filter": "datum.series == 'Non-durable goods'"}], "mark": {"type": "line", "strokeWidth": 3.5},
          "encoding": {"color": {"field": "series", "type": "nominal", "scale": {"domain": ["All sectors", "Durable goods", "Non-durable goods"], "range": ["#000000", "#3c6eb4", "#b22f2d"]}, "legend": {"orient": "none", "legendX": 21, "legendY": 419, "title": null}}}},
        {"transform": [{"filter": "datum.series == 'Durable goods'"}], "mark": {"type": "line", "strokeWidth": 3.5},
          "encoding": {"color": {"field": "series", "type": "nominal", "scale": {"domain": ["All sectors", "Durable goods", "Non-durable goods"], "range": ["#000000", "#3c6eb4", "#b22f2d"]}, "legend": {"orient": "none", "legendX": 21, "legendY": 419, "title": null}}}},
        {"transform": [{"filter": "datum.series == 'All sectors'"}], "mark": {"type": "line", "strokeWidth": 4},
          "encoding": {"color": {"field": "series", "type": "nominal", "scale": {"domain": ["All sectors", "Durable goods", "Non-durable goods"], "range": ["#000000", "#3c6eb4", "#b22f2d"]}, "legend": {"orient": "none", "legendX": 21, "legendY": 419, "title": null}}}}
      ]
    },
    {
      "width": 393, "height": 345,
      "title": {"text": ["Headline inflation components²", " "]},
      "data": {"name": "p2"},
      "encoding": {
        "x": {"field": "year", "type": "quantitative", "scale": {"domain": [1963, 2026.9], "nice": false, "zero": false},
          "axis": {"values": [1965, 1970, 1975, 1980, 1985, 1990, 1995, 2000, 2005, 2010, 2015, 2020], "labelExpr": "datum.value % 10 == 0 ? format(datum.value, 'd') : ''", "grid": true, "gridOpacity": {"condition": {"test": "datum.value % 10 != 0", "value": 0}, "value": 1}, "tickSize": -15, "tickColor": "black", "tickWidth": 1.5, "labelPadding": 27, "labelOffset": 3, "title": null}},
        "y": {"field": "value", "type": "quantitative", "scale": {"domain": [-7.5, 15], "nice": false, "zero": false},
          "axis": {"orient": "right", "values": [-5, 0, 5, 10], "labelExpr": "(datum.value < 0 ? '–' : '') + format(abs(datum.value), 'd')", "grid": true, "gridColor": {"condition": {"test": "datum.value == 0", "value": "#222222"}, "value": "white"}, "ticks": false, "tickSize": 0, "labelAlign": "right", "labelBaseline": "alphabetic", "labelPadding": -3, "labelOffset": -6, "title": "Per cent", "titleAngle": 0, "titleAlign": "right", "titleBaseline": "alphabetic", "titleX": -2, "titleY": -6, "titleColor": "#808080", "titleFontSize": 18}}
      },
      "layer": [
        {"transform": [{"filter": "datum.series == '12-month trend inflation'"}], "mark": {"type": "line", "strokeWidth": 3.5},
          "encoding": {"color": {"field": "series", "type": "nominal", "scale": {"domain": ["12-month trend inflation", "12-month transitory inflation"], "range": ["#c8828f", "#68ace0"]}, "legend": {"orient": "none", "legendX": 28, "legendY": 388, "title": null, "clipHeight": 27}}}},
        {"transform": [{"filter": "datum.series == '12-month transitory inflation'"}], "mark": {"type": "line", "strokeWidth": 3.5},
          "encoding": {"color": {"field": "series", "type": "nominal", "scale": {"domain": ["12-month trend inflation", "12-month transitory inflation"], "range": ["#c8828f", "#68ace0"]}, "legend": {"orient": "none", "legendX": 28, "legendY": 388, "title": null, "clipHeight": 27}}}}
      ]
    },
    {
      "width": 391, "height": 345,
      "title": {"text": ["The pass-through of “salient” relative", "price increases to core inflation³"]},
      "data": {"name": "p3"},
      "encoding": {
        "x": {"field": "coef", "type": "quantitative", "scale": {"domain": [-0.3, 0.7], "nice": false, "zero": false},
          "axis": {"values": [-0.2, -0.1, 0, 0.1, 0.2, 0.3, 0.4, 0.5, 0.6], "labelExpr": "(datum.value < 0 ? '–' : '') + format(abs(datum.value), '.1f')", "grid": true, "gridColor": {"condition": {"test": "datum.value == 0", "value": "#111111"}, "value": "white"}, "gridWidth": {"condition": {"test": "datum.value == 0", "value": 1}, "value": 1.5}, "tickSize": -15, "tickColor": "black", "tickWidth": 1.5, "labelPadding": 27, "labelOffset": 0, "title": "Standardized pass-through coefficients", "titlePadding": 9}},
        "y": {"field": "density", "type": "quantitative", "scale": {"domain": [-0.75, 6], "nice": false, "zero": false},
          "axis": {"orient": "right", "values": [0, 1.5, 3, 4.5], "format": ".1f", "grid": true, "gridColor": {"condition": {"test": "datum.value == 0", "value": "#222222"}, "value": "white"}, "ticks": false, "tickSize": 0, "labelAlign": "right", "labelBaseline": "alphabetic", "labelPadding": -3, "labelOffset": -6, "title": "Density", "titleAngle": 0, "titleAlign": "right", "titleBaseline": "alphabetic", "titleX": -2, "titleY": -6, "titleColor": "#808080", "titleFontSize": 18}}
      },
      "layer": [
        {"transform": [{"filter": "datum.series == '1960–1985'"}], "mark": {"type": "line", "strokeWidth": 2, "interpolate": "monotone"},
          "encoding": {"color": {"field": "series", "type": "nominal", "scale": {"domain": ["1960–1985", "1986–2019"], "range": ["#b2302a", "#3a6db5"]}, "legend": {"orient": "none", "legendX": 21, "legendY": 430, "title": "Sample period:", "titleOrient": "left", "titleAnchor": "start", "titlePadding": 7, "titleBaseline": "top"}}}},
        {"transform": [{"filter": "datum.series == '1986–2019'"}], "mark": {"type": "line", "strokeWidth": 2, "interpolate": "monotone"},
          "encoding": {"color": {"field": "series", "type": "nominal", "scale": {"domain": ["1960–1985", "1986–2019"], "range": ["#b2302a", "#3a6db5"]}, "legend": {"orient": "none", "legendX": 21, "legendY": 430, "title": "Sample period:", "titleOrient": "left", "titleAnchor": "start", "titlePadding": 7, "titleBaseline": "top"}}}}
      ]
    }
  ]
}
